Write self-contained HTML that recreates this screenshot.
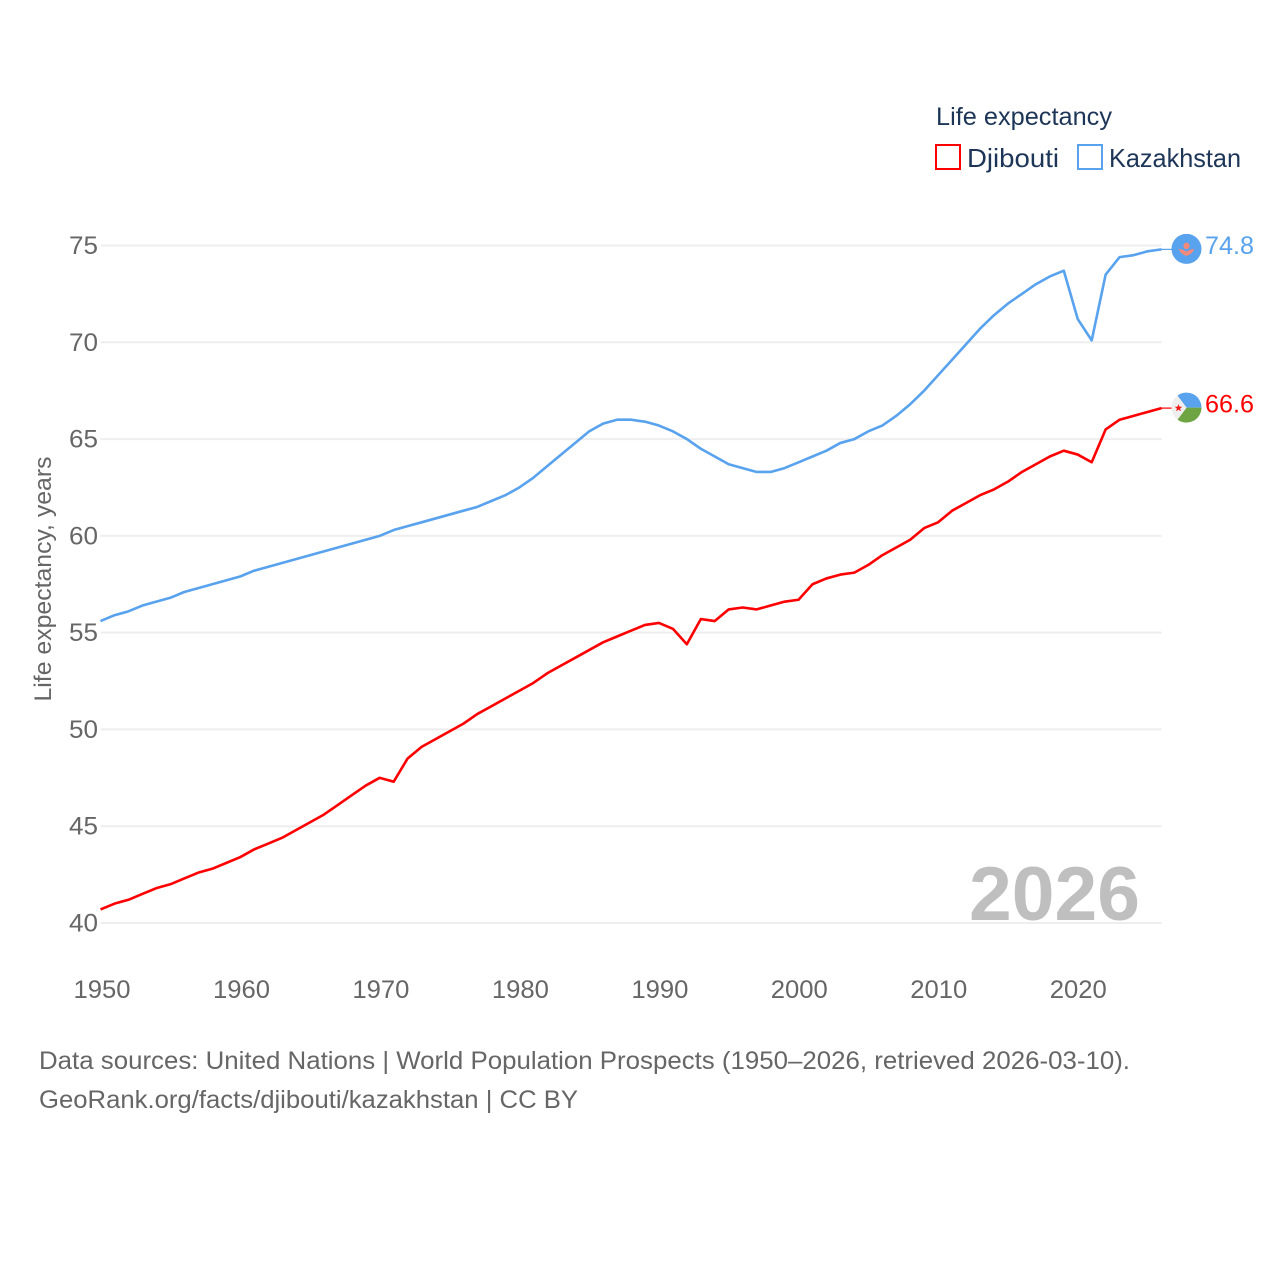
<!DOCTYPE html>
<html lang="en">
<head>
<meta charset="utf-8">
<title>Life expectancy: Djibouti and Kazakhstan</title>
<style>
html,body{margin:0;padding:0;background:#fff;width:1280px;height:1280px;overflow:hidden}
svg{display:block;font-family:"Liberation Sans",sans-serif}
</style>
</head>
<body>
<svg id="chart" xmlns="http://www.w3.org/2000/svg" width="1280" height="1280" viewBox="0 0 1280 1280">
  <g id="grid"></g>
  <g id="yticks"></g>
  <g id="xticks"></g>
  <text transform="translate(51,579) rotate(-90)" text-anchor="middle" font-size="24" fill="#666" textLength="245" lengthAdjust="spacingAndGlyphs">Life expectancy, years</text>
  <text x="1140" y="920" text-anchor="end" font-size="76" font-weight="bold" fill="#bfbfbf" textLength="171" lengthAdjust="spacingAndGlyphs">2026</text>
  <g id="series"></g>
  <g id="flag-kz"></g>
  <g id="flag-dj"></g>
  <g>
    <text x="936" y="125" font-size="25" fill="#1d3557" textLength="176" lengthAdjust="spacingAndGlyphs">Life expectancy</text>
    <rect x="936" y="145" width="24" height="24" fill="none" stroke="#ff0000" stroke-width="2"/>
    <text x="967" y="167" font-size="26" fill="#1d3557" textLength="92" lengthAdjust="spacingAndGlyphs">Djibouti</text>
    <rect x="1078" y="145" width="24" height="24" fill="none" stroke="#58a2ee" stroke-width="2"/>
    <text x="1109" y="167" font-size="26" fill="#1d3557" textLength="132" lengthAdjust="spacingAndGlyphs">Kazakhstan</text>
  </g>
  <text x="39" y="1069" font-size="25" fill="#666" textLength="1091" lengthAdjust="spacingAndGlyphs">Data sources: United Nations | World Population Prospects (1950–2026, retrieved 2026-03-10).</text>
  <text x="39" y="1108" font-size="25" fill="#666" textLength="539" lengthAdjust="spacingAndGlyphs">GeoRank.org/facts/djibouti/kazakhstan | CC BY</text>
</svg>
<script>
const startYear = 1950;
const endYear = 2026;
const yTickValues = [40, 45, 50, 55, 60, 65, 70, 75];
const xTickValues = [1950, 1960, 1970, 1980, 1990, 2000, 2010, 2020];
const djiboutiValues = [
  40.7,41.0,41.2,41.5,41.8,42.0,42.3,42.6,42.8,43.1,
  43.4,43.8,44.1,44.4,44.8,45.2,45.6,46.1,46.6,47.1,
  47.5,47.3,48.5,49.1,49.5,49.9,50.3,50.8,51.2,51.6,
  52.0,52.4,52.9,53.3,53.7,54.1,54.5,54.8,55.1,55.4,
  55.5,55.2,54.4,55.7,55.6,56.2,56.3,56.2,56.4,56.6,
  56.7,57.5,57.8,58.0,58.1,58.5,59.0,59.4,59.8,60.4,
  60.7,61.3,61.7,62.1,62.4,62.8,63.3,63.7,64.1,64.4,
  64.2,63.8,65.5,66.0,66.2,66.4,66.6
];
const kazakhstanValues = [
  55.6,55.9,56.1,56.4,56.6,56.8,57.1,57.3,57.5,57.7,
  57.9,58.2,58.4,58.6,58.8,59.0,59.2,59.4,59.6,59.8,
  60.0,60.3,60.5,60.7,60.9,61.1,61.3,61.5,61.8,62.1,
  62.5,63.0,63.6,64.2,64.8,65.4,65.8,66.0,66.0,65.9,
  65.7,65.4,65.0,64.5,64.1,63.7,63.5,63.3,63.3,63.5,
  63.8,64.1,64.4,64.8,65.0,65.4,65.7,66.2,66.8,67.5,
  68.3,69.1,69.9,70.7,71.4,72.0,72.5,73.0,73.4,73.7,
  71.2,70.1,73.5,74.4,74.5,74.7,74.8
];

const NS = 'http://www.w3.org/2000/svg';
const plotLeft = 100.5, plotRight = 1161.5, plotBottom = 923, plotTop = 245.5;
const RED = '#ff0000', BLUE = '#58a2ee';

function xScale(year) {
  return plotLeft + (year - startYear) * (plotRight - plotLeft) / (endYear - startYear);
}
function yScale(value) {
  return plotBottom - (value - 40) * (plotBottom - plotTop) / 35;
}
function make(tag, attrs, parent, text) {
  const el = document.createElementNS(NS, tag);
  for (const k in attrs) el.setAttribute(k, attrs[k]);
  if (text !== undefined) el.textContent = text;
  parent.appendChild(el);
  return el;
}

const gridG = document.getElementById('grid');
const yG = document.getElementById('yticks');
const xG = document.getElementById('xticks');
const seriesG = document.getElementById('series');

yTickValues.forEach(function (v) {
  const line = make('line', {x1: plotLeft, x2: plotRight, y1: yScale(v), y2: yScale(v), stroke: '#eeeeee', 'stroke-width': 2}, gridG);
  
  
  const label = make('text', {x: 98, y: yScale(v) + 8.5, 'text-anchor': 'end', 'font-size': 25, fill: '#666', textLength: 29, lengthAdjust: 'spacingAndGlyphs'}, yG, String(v));
  
  
});

xTickValues.forEach(function (y) {
  const label = make('text', {x: xScale(y) + 1.5 - (y - startYear) / 70, y: 998, 'text-anchor': 'middle', 'font-size': 25, fill: '#666', textLength: 57, lengthAdjust: 'spacingAndGlyphs'}, xG, String(y));
  
  
});

function drawSeries(values, color, key) {
  const pts = values.map(function (v, i) {
    return xScale(startYear + i).toFixed(2) + ',' + yScale(v).toFixed(2);
  }).join(' ');
  const line = make('polyline', {points: pts, fill: 'none', stroke: color, 'stroke-width': 2.6, 'stroke-linejoin': 'round'}, seriesG);
  
  
  const last = values[values.length - 1];
  const connector = make('line', {x1: plotRight, x2: 1172, y1: yScale(last), y2: yScale(last), stroke: color, 'stroke-width': 1.2}, seriesG);
  
  
  const label = make('text', {x: 1205, y: yScale(last) + 4.5, 'font-size': 25, fill: color, textLength: 49, lengthAdjust: 'spacingAndGlyphs'}, seriesG, last.toFixed(1));
  
  
}
drawSeries(djiboutiValues, RED, 'djibouti');
drawSeries(kazakhstanValues, BLUE, 'kazakhstan');

/* flag markers, anchored to the last data value */
const flagX = 1186.5;
const kzY = yScale(kazakhstanValues[kazakhstanValues.length - 1]) - 0.5;
const kz = document.getElementById('flag-kz');
kz.setAttribute('transform', 'translate(' + flagX + ',' + kzY.toFixed(2) + ')');
make('circle', {r: 15, fill: '#58a2ee'}, kz);
make('circle', {cx: 0, cy: -3, r: 3.2, fill: '#f58a7c'}, kz);
make('path', {d: 'M-8,0 L-3,1 Q0,4 3,1 L8,0 Q5,6 0,7 Q-5,6 -8,0 Z', fill: '#f58a7c'}, kz);

const djY = yScale(djiboutiValues[djiboutiValues.length - 1]) - 0.5;
const dj = document.getElementById('flag-dj');
dj.setAttribute('transform', 'translate(' + flagX + ',' + djY.toFixed(2) + ')');
make('path', {d: 'M-9,-12 A15,15 0 0 1 15,0 L-0,0 Z', fill: '#58a2ee'}, dj);
make('path', {d: 'M15,0 A15,15 0 0 1 -9,12 L0,0 Z', fill: '#6fa443'}, dj);
make('path', {d: 'M-9,-12 L0,0 L-9,12 A15,15 0 0 1 -9,-12 Z', fill: '#efefef'}, dj);
make('path', {d: 'M-8,-3.5 L-7,-0.8 L-4.2,-0.8 L-6.4,0.9 L-5.6,3.6 L-8,2 L-10.4,3.6 L-9.6,0.9 L-11.8,-0.8 L-9,-0.8 Z', fill: '#f01515'}, dj);
</script>
</body>
</html>
